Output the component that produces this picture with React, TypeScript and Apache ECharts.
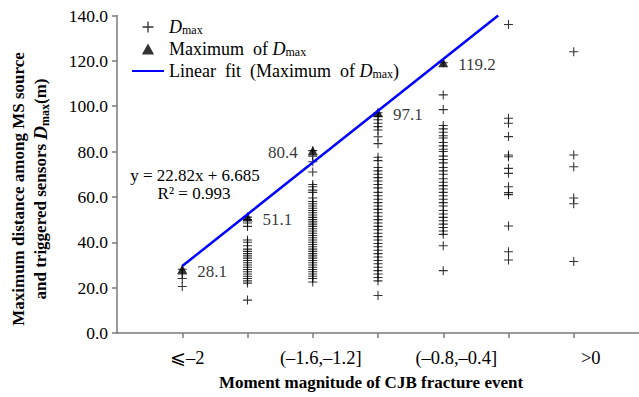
import React, { useEffect, useRef } from "react";
import * as echarts from "echarts";

// x-axis slots (index 0 and 8 are empty padding slots)
const categories = ["", "⩽–2", "(–2,–1.6]", "(–1.6,–1.2]", "(–1.2,–0.8]", "(–0.8,–0.4]", "(–0.4,0]", ">0", ""];
const labelledSlots = [1, 3, 5, 7];
const yMin = 0;
const yMax = 140;
const yInterval = 20;

// D_max values per magnitude class
const dmaxLe2 = [28.1, 26.0, 24.0, 20.5];
const dmax2to16 = [51.1, 50.0, 48.5, 47.0, 41.0, 40.0, 38.5, 37.0, 36.0, 35.0, 34.0, 33.0, 32.0, 31.0, 30.0, 29.0, 28.0, 27.0, 26.0, 25.0, 24.0, 23.0, 22.0, 14.5];
const dmax16to12 = [80.4, 78.0, 75.5, 71.0, 65.5, 64.5, 63.0, 62.0, 59.5, 58.0, 57.0, 56.0, 55.0, 54.0, 53.0, 52.0, 51.0, 50.0, 49.0, 48.0, 47.0, 46.0, 45.0, 44.0, 43.0, 42.0, 41.0, 40.0, 39.0, 38.0, 37.0, 36.0, 35.0, 34.0, 33.0, 32.0, 31.0, 30.0, 29.0, 28.0, 27.0, 26.0, 25.0, 24.0, 22.5];
const dmax12to08 = [97.1, 95.5, 94.0, 92.5, 91.0, 89.5, 86.5, 83.5, 77.5, 76.0, 73.0, 71.5, 70.0, 68.5, 67.0, 65.5, 64.0, 62.0, 60.5, 59.0, 57.5, 56.0, 54.5, 53.0, 51.5, 50.0, 48.5, 47.0, 45.5, 44.0, 42.5, 41.0, 39.5, 38.0, 36.5, 35.0, 33.5, 32.0, 30.5, 29.0, 27.5, 26.0, 24.5, 23.0, 16.5];
const dmax08to04 = [119.2, 105.0, 98.5, 91.5, 90.0, 88.5, 87.0, 86.0, 84.0, 82.5, 81.0, 80.0, 78.0, 76.5, 75.0, 73.0, 71.5, 70.0, 68.0, 66.5, 65.0, 63.5, 62.0, 60.5, 59.0, 57.5, 56.0, 54.0, 52.5, 51.0, 49.5, 48.0, 46.5, 45.0, 43.5, 38.5, 27.5];
const dmax04to0 = [136.0, 94.7, 92.5, 86.6, 78.5, 77.7, 72.6, 70.4, 64.5, 61.9, 61.0, 47.2, 35.8, 32.2];
const dmaxGt0 = [124.0, 78.5, 73.3, 59.5, 57.0, 31.5];

const dmaxColumns = [dmaxLe2, dmax2to16, dmax16to12, dmax12to08, dmax08to04, dmax04to0, dmaxGt0];

// maximum of D_max for the first five classes
const maxOfDmax = [28.1, 51.1, 80.4, 97.1, 119.2];
const maxLabelLeft = [false, false, true, false, false];

// linear fit of the maxima
const fitSlope = 22.82;
const fitIntercept = 6.685;
const fitR2 = 0.993;

const FONT = "Liberation Serif";
const PLUS = "path://M4.4,0H5.6V4.4H10V5.6H5.6V10H4.4V5.6H0V4.4H4.4Z";
const TRI = "path://M5,0L10,9H0Z";

export default function App() {
  const ref = useRef<HTMLDivElement>(null);

  useEffect(() => {
    if (!ref.current) return;
    const chart = echarts.init(ref.current, undefined, { renderer: "svg" });

    const dmaxData: number[][] = [];
    dmaxColumns.forEach((col, i) => col.forEach((v) => dmaxData.push([i + 1, v])));

    const maxData = maxOfDmax.map((v, i) => ({
      value: [i + 1, v],
      label: { position: maxLabelLeft[i] ? "left" : "right" },
    }));

    const fitX0 = 1;
    const fitX1 = (yMax - fitIntercept) / fitSlope;
    const fitData = [
      [fitX0, fitSlope * fitX0 + fitIntercept],
      [fitX1, fitSlope * fitX1 + fitIntercept],
    ];

    const rich = {
      i: { fontStyle: "italic", fontSize: 18, fontFamily: FONT, color: "#000" },
      s: { fontSize: 12, fontFamily: FONT, color: "#000", verticalAlign: "bottom", padding: [6, 0, 0, 0] },
      n: { fontSize: 18, fontFamily: FONT, color: "#000" },
    };

    const xl = (pad: number) => ({ fontSize: 18.5, fontFamily: FONT, color: "#000", padding: [0, 0, 0, pad] });

    const axisColor = "#7a7a7a";

    chart.setOption({
      animation: false,
      backgroundColor: "#fff",
      textStyle: { fontFamily: FONT },
      grid: { left: 117, right: 0, top: 15.5, bottom: 64, containLabel: false },
      xAxis: [
        {
          type: "category",
          data: categories,
          boundaryGap: false,
          axisLine: { lineStyle: { color: axisColor, width: 1.5 } },
          axisTick: {
            show: true,
            length: 5,
            lineStyle: { color: axisColor, width: 1.5 },
            interval: (idx: number) => idx >= 1 && idx <= 7,
          },
          axisLabel: {
            interval: (idx: number) => labelledSlots.indexOf(idx) >= 0,
            margin: 15,
            fontSize: 18.5,
            fontFamily: FONT,
            color: "#000",
            formatter: (v: string, idx: number) => `{p${idx}|${v}}`,
            rich: { p1: xl(10), p3: xl(16), p5: xl(26), p7: xl(34) },
          },
          splitLine: { show: false },
        },
        { type: "value", min: 0, max: 8, show: false },
      ],
      yAxis: {
        type: "value",
        min: yMin,
        max: yMax,
        interval: yInterval,
        axisLine: { show: true, lineStyle: { color: axisColor, width: 1.5 } },
        axisTick: { show: true, length: 5, lineStyle: { color: axisColor, width: 1.5 } },
        axisLabel: {
          margin: 9,
          fontSize: 17.5,
          fontFamily: FONT,
          color: "#000",
          formatter: (v: number) => v.toFixed(1),
        },
        splitLine: { show: false },
      },
      legend: {
        orient: "vertical",
        left: 126,
        top: 13,
        itemWidth: 32,
        itemHeight: 11,
        itemGap: 4,
        symbolKeepAspect: true,
        data: [
          { name: "Dmax", icon: PLUS },
          { name: "Maximum of Dmax", icon: TRI },
          { name: "Linear fit (Maximum of Dmax)", itemStyle: { color: "rgba(0,0,0,0)", opacity: 0, borderWidth: 0 } },
        ],
        formatter: (name: string) => {
          if (name === "Dmax") return "{i|D}{s|max}";
          if (name === "Maximum of Dmax") return "{n|Maximum\u00a0\u00a0of\u00a0}{i|D}{s|max}";
          return "{n|Linear\u00a0\u00a0fit\u00a0\u00a0(Maximum\u00a0\u00a0of\u00a0}{i|D}{s|max}{n|)}";
        },
        textStyle: { fontSize: 18, fontFamily: FONT, color: "#000", rich },
      },
      graphic: [
        {
          type: "text",
          x: 195,
          y: 175,
          style: { text: "y = 22.82x + 6.685", font: `17px ${FONT}`, fill: "#000", align: "center", verticalAlign: "middle" },
        },
        {
          type: "text",
          x: 194,
          y: 193,
          style: { text: `R² = ${fitR2.toFixed(3)}`, font: `17px ${FONT}`, fill: "#000", align: "center", verticalAlign: "middle" },
        },
        {
          type: "text",
          x: 371,
          y: 382,
          style: { text: "Moment magnitude of CJB fracture event", font: `bold 17px ${FONT}`, fill: "#000", align: "center", verticalAlign: "middle" },
        },
        {
          type: "text",
          x: 29,
          y: 189,
          rotation: Math.PI / 2,
          style: {
            text: "{b|Maximum distance among MS source}\n{b|and triggered sensors }{bi|D}{bs|max}{b|(m)}",
            align: "center",
            verticalAlign: "middle",
            fill: "#000",
            rich: {
              b: { fontWeight: "bold", fontSize: 17, fontFamily: FONT, fill: "#000", lineHeight: 22 },
              bi: { fontWeight: "bold", fontStyle: "italic", fontSize: 19, fontFamily: FONT, fill: "#000", lineHeight: 22 },
              bs: { fontWeight: "bold", fontSize: 12, fontFamily: FONT, fill: "#000", lineHeight: 22, verticalAlign: "bottom", padding: [8, 0, 0, 0] },
            },
          },
        },
      ],
      series: [
        {
          name: "Dmax",
          type: "scatter",
          symbol: PLUS,
          symbolSize: 9,
          symbolKeepAspect: true,
          itemStyle: { color: "#000" },
          data: dmaxData,
          z: 2,
        },
        {
          name: "Maximum of Dmax",
          type: "scatter",
          symbol: TRI,
          symbolSize: 10,
          symbolKeepAspect: true,
          itemStyle: { color: "#000" },
          data: maxData,
          label: {
            show: true,
            distance: 10,
            offset: [0, 2],
            fontSize: 17,
            fontFamily: FONT,
            color: "#000",
            formatter: (p: any) => p.value[1].toFixed(1),
          },
          z: 3,
        },
        {
          name: "Linear fit (Maximum of Dmax)",
          type: "line",
          xAxisIndex: 1,
          data: fitData,
          symbol: "none",
          showSymbol: false,
          lineStyle: { color: "#0000ff", width: 2.5 },
          itemStyle: { color: "#0000ff" },
          z: 4,
        },
      ],
    });

    return () => chart.dispose();
  }, []);

  return <div ref={ref} style={{ position: "fixed", left: 0, top: 0, width: 639, height: 397 }} />;
}
